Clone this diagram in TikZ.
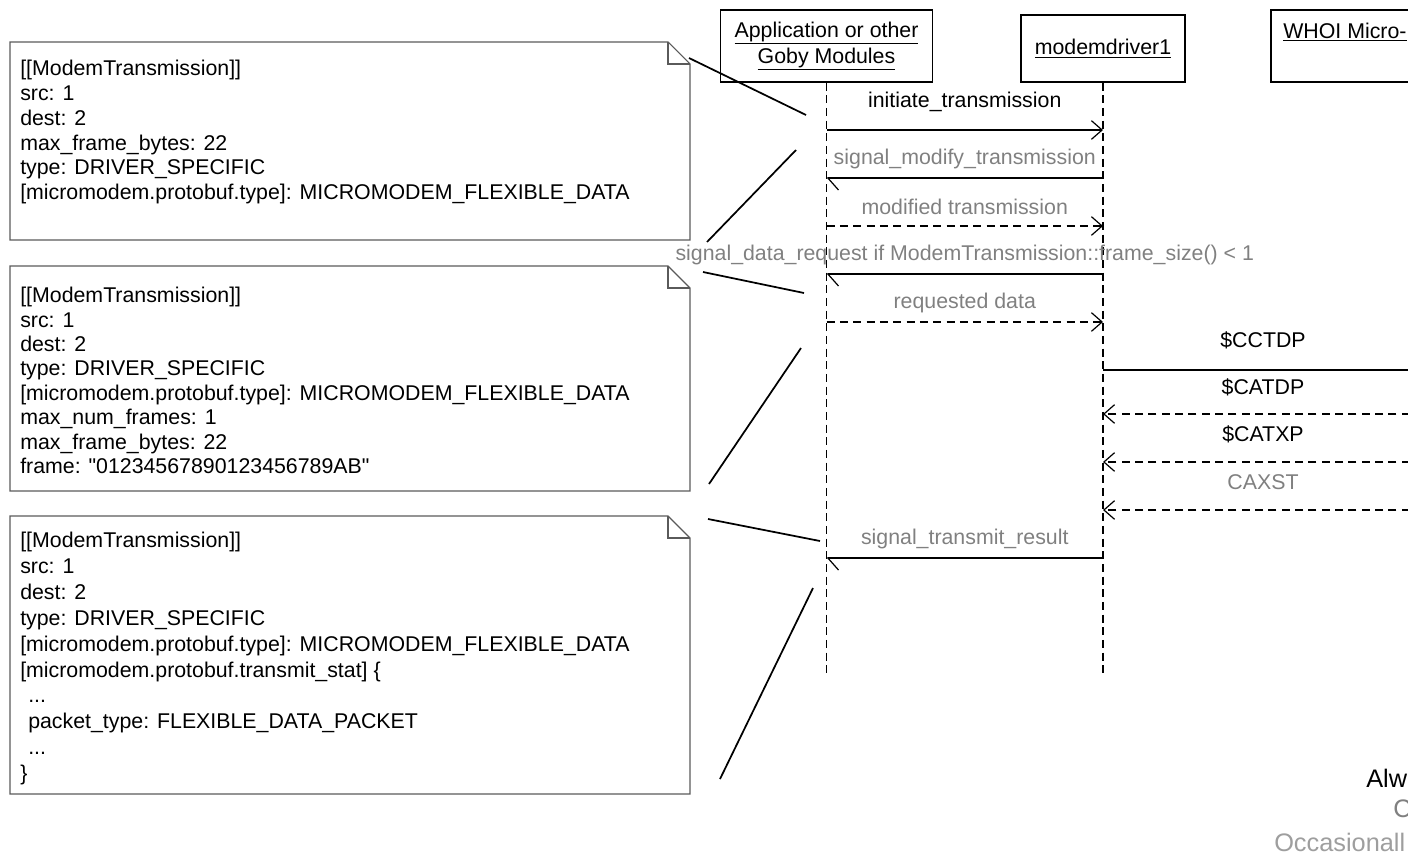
\documentclass[tikz,border=0pt]{standalone}
\usepackage{fontspec}
\setmainfont{Liberation Sans}
\usepackage{xcolor}
\usetikzlibrary{arrows.meta}
\definecolor{msggray}{RGB}{128,128,128}
\definecolor{palegray}{RGB}{158,158,158}
\definecolor{notegray}{RGB}{90,90,90}

\begin{document}
\begin{tikzpicture}[x=0.75pt,y=-0.75pt,
		head/.style={draw, line width=0.8pt, align=center, font=\fontsize{16}{19.5}\selectfont},
		lifeline/.style={line width=0.8pt, dash pattern=on 6pt off 3.5pt},
		call/.style={line width=0.9pt, -{Straight Barb[length=8pt,width=14pt]}},
		answer/.style={call, dash pattern=on 6pt off 4pt},
		signal/.style={line width=0.9pt, -{Straight Barb[harpoon,length=8pt,width=18pt]}},
		lbl/.style={font=\fontsize{16}{19}\selectfont, inner sep=0pt},
		note/.style={draw=notegray, line width=0.8pt},
		notetext/.style={anchor=north west, align=left, inner sep=0pt, font=\fontsize{16}{18.6}\selectfont},
		tie/.style={line width=1.3pt},
		legend/.style={anchor=west, inner sep=0pt, font=\fontsize{19}{22}\selectfont}]
	\useasboundingbox (0,0) rectangle (1408,854);
	\clip (0,0) rectangle (1408,854);

	\node[head, minimum width=159pt, minimum height=54pt] (app) at (826.5,46) {\raisebox{-2pt}{\underline{Application or other}}\\\raisebox{-2pt}{\underline{Goby Modules}}};
	\node[head, minimum width=123pt, minimum height=50.25pt] (drv) at (1103,48.5) {\raisebox{-3pt}{\underline{modemdriver1}}};
	\node[head, minimum width=228pt, minimum height=54pt] (modem) at (1423,46) {};
	\node[lbl, anchor=west] (modemlbl) at (1283,32) {\underline{WHOI Micro-}};

	\draw[lifeline] (app.south) -- (app.south |- 0,675);
	\draw[lifeline] (drv.south) -- (drv.south |- 0,675);
	\draw[lifeline] (modem.south) -- (modem.south |- 0,675);

	\draw[call] (app.south |- 0,130) -- node[lbl, yshift=21pt] {initiate\_transmission} (drv.south |- 0,130);
	\draw[signal] (drv.south |- 0,178) -- node[lbl, text=msggray, yshift=14pt] {signal\_modify\_transmission} (app.south |- 0,178);
	\draw[answer] (app.south |- 0,226) -- node[lbl, text=msggray, yshift=14pt] {modified transmission} (drv.south |- 0,226);
	\draw[signal] (drv.south |- 0,274) -- node[lbl, text=msggray, yshift=14pt] {signal\_data\_request if ModemTransmission::frame\_size() < 1} (app.south |- 0,274);
	\draw[answer] (app.south |- 0,322) -- node[lbl, text=msggray, yshift=14pt] {requested data} (drv.south |- 0,322);
	\draw[call] (drv.south |- 0,370) -- node[lbl, yshift=22pt] {\$CCTDP} (modem.south |- 0,370);
	\draw[answer] (modem.south |- 0,414) -- node[lbl, yshift=20pt] {\$CATDP} (drv.south |- 0,414);
	\draw[answer] (modem.south |- 0,462) -- node[lbl, yshift=21pt] {\$CATXP} (drv.south |- 0,462);
	\draw[answer] (modem.south |- 0,510) -- node[lbl, text=msggray, yshift=21pt] {CAXST} (drv.south |- 0,510);
	\draw[signal] (drv.south |- 0,558) -- node[lbl, text=msggray, yshift=14pt] {signal\_transmit\_result} (app.south |- 0,558);

	\draw[note] (10,42) -- (668,42) -- (690,64) -- (690,240) -- (10,240) -- cycle;
	\draw[note] (668,42) -- (668,64) -- (690,64);
	\node[notetext] (req) at (20,60) {[[ModemTransmission]]\\src: 1\\dest: 2\\max\_frame\_bytes: 22\\type: DRIVER\_SPECIFIC\\{}[micromodem.protobuf.type]: MICROMODEM\_FLEXIBLE\_DATA};

	\draw[note] (10,266) -- (668,266) -- (690,288) -- (690,491) -- (10,491) -- cycle;
	\draw[note] (668,266) -- (668,288) -- (690,288);
	\node[notetext, font=\fontsize{16}{18.3}\selectfont] (data) at (20,287) {[[ModemTransmission]]\\src: 1\\dest: 2\\type: DRIVER\_SPECIFIC\\{}[micromodem.protobuf.type]: MICROMODEM\_FLEXIBLE\_DATA\\max\_num\_frames: 1\\max\_frame\_bytes: 22\\frame: \textquotedbl 01234567890123456789AB\textquotedbl};

	\draw[note] (10,516) -- (668,516) -- (690,538) -- (690,794) -- (10,794) -- cycle;
	\draw[note] (668,516) -- (668,538) -- (690,538);
	\node[notetext, font=\fontsize{16}{19.4}\selectfont] (result) at (20,532) {[[ModemTransmission]]\\src: 1\\dest: 2\\type: DRIVER\_SPECIFIC\\{}[micromodem.protobuf.type]: MICROMODEM\_FLEXIBLE\_DATA\\{}[micromodem.protobuf.transmit\_stat] \{\\\hspace*{6pt}...\\\hspace*{6pt}packet\_type: FLEXIBLE\_DATA\_PACKET\\\hspace*{6pt}...\\\}};

	\coordinate (r1) at (689,58);   \coordinate (r2) at (806,115);
	\coordinate (r3) at (707,242);  \coordinate (r4) at (796,150);
	\coordinate (d1) at (703,272);  \coordinate (d2) at (804,293);
	\coordinate (d3) at (709,484);  \coordinate (d4) at (801,348);
	\coordinate (s1) at (708,519);  \coordinate (s2) at (820,541);
	\coordinate (s3) at (720,779);  \coordinate (s4) at (813,588);
	\draw[tie] (r1) -- (r2);
	\draw[tie] (r3) -- (r4);
	\draw[tie] (d1) -- (d2);
	\draw[tie] (d3) -- (d4);
	\draw[tie] (s1) -- (s2);
	\draw[tie] (s3) -- (s4);

	\node[legend] (always) at (1366,778) {Alw};
	\node[legend, text=msggray] (often) at (1393,809) {C};
	\node[legend, text=palegray] (seldom) at (1274,842) {Occasionall};
\end{tikzpicture}
\end{document}
